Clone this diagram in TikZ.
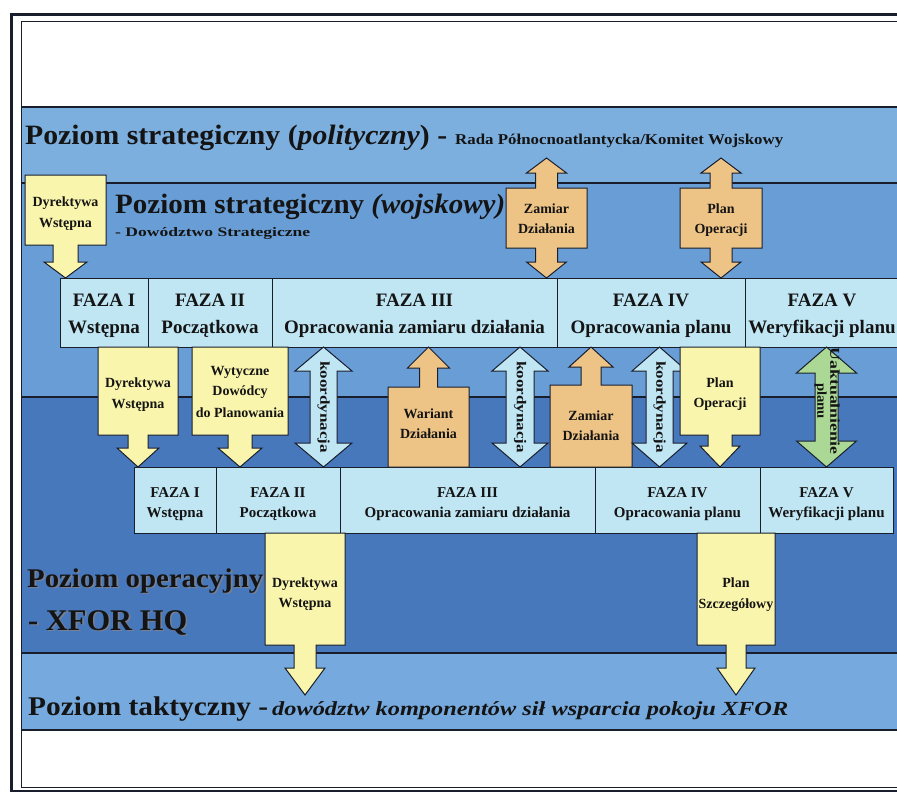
\documentclass[tikz,border=0pt]{standalone}
\usepackage{fontspec}
\setmainfont{Liberation Serif}
\usepackage{graphicx}
\definecolor{bandA}{RGB}{124,175,222}
\definecolor{bandB}{RGB}{104,158,213}
\definecolor{bandOp}{RGB}{72,120,188}
\definecolor{bandT}{RGB}{118,170,222}
\definecolor{linec}{RGB}{25,30,45}
\definecolor{yelc}{RGB}{250,245,172}
\definecolor{orac}{RGB}{238,196,134}
\definecolor{cyac}{RGB}{192,230,244}
\definecolor{grnc}{RGB}{172,216,150}
\definecolor{txt}{RGB}{20,20,20}
\definecolor{shc}{RGB}{120,128,145}
\newcommand\ArrDown[9]{%
 \pgfmathsetmacro\acx{(#2+#3)/2}%
 \path[#1] (#2,#4) -- (#3,#4) -- (#3,#5) -- (\acx+#8,#5) -- (\acx+#8,#6) -- (\acx+#9,#6) -- (\acx,#7) -- (\acx-#9,#6) -- (\acx-#8,#6) -- (\acx-#8,#5) -- (#2,#5) -- cycle;}
\newcommand\ArrUp[9]{%
 \pgfmathsetmacro\acx{(#2+#3)/2}%
 \path[#1] (#2,#5) -- (#2,#4) -- (\acx-#8,#4) -- (\acx-#8,#6) -- (\acx-#9,#6) -- (\acx,#7) -- (\acx+#9,#6) -- (\acx+#8,#6) -- (\acx+#8,#4) -- (#3,#4) -- (#3,#5) -- cycle;}
\newcommand\ArrBoth[9]{%
 \pgfmathsetmacro\acx{(#2+#3)/2}%
 \pgfmathsetmacro\aya{#6+15}%
 \pgfmathsetmacro\ayb{#7-16}%
 \path[#1] (#2,#4) -- (\acx-#8,#4) -- (\acx-#8,\aya) -- (\acx-#9,\aya) -- (\acx,#6) -- (\acx+#9,\aya) -- (\acx+#8,\aya) -- (\acx+#8,#4) -- (#3,#4) -- (#3,#5) -- (\acx+#8,#5) -- (\acx+#8,\ayb) -- (\acx+#9,\ayb) -- (\acx,#7) -- (\acx-#9,\ayb) -- (\acx-#8,\ayb) -- (\acx-#8,#5) -- (#2,#5) -- cycle;}
\newcommand\DArr[7]{%
 \pgfmathsetmacro\aya{#3+#5}%
 \pgfmathsetmacro\ayb{#4-#5}%
 \path[#1] (#2,#3) -- (#2+#7,\aya) -- (#2+#6,\aya) -- (#2+#6,\ayb) -- (#2+#7,\ayb) -- (#2,#4) -- (#2-#7,\ayb) -- (#2-#6,\ayb) -- (#2-#6,\aya) -- (#2-#7,\aya) -- cycle;}
\newcommand\fitw[2]{\resizebox{#1}{\height}{#2}}
\newcommand\shadowed[1]{\rlap{\kern1.6pt\raisebox{-1.6pt}{\color{shc}#1}}#1}
\begin{document}
\begin{tikzpicture}[x=1pt,y=-1pt,
  outl/.style={draw=linec, line width=1pt, line join=miter},
  yel/.style={outl, fill=yelc},
  ora/.style={outl, fill=orac},
  cya/.style={outl, fill=cyac},
  grn/.style={outl, fill=grnc},
  bandline/.style={draw=linec, line width=1.1pt},
  lab/.style={font=\fontsize{14}{15}\selectfont\bfseries, text=txt, inner sep=0pt, anchor=base},
  fazaA/.style={font=\fontsize{19}{20}\selectfont\bfseries, text=txt, inner sep=0pt, anchor=base},
  fazaB/.style={font=\fontsize{15}{16}\selectfont\bfseries, text=txt, inner sep=0pt, anchor=base},
  head/.style={text=txt, inner sep=0pt, anchor=base west},
  vlab/.style={font=\fontsize{13.5}{13}\selectfont\bfseries, text=txt, inner sep=0pt, rotate=-90, align=center}
]
\useasboundingbox (0,0) rectangle (897,792);
\clip (0,0) rectangle (897,792);
\fill[white] (0,0) rectangle (897,792);
% bands
\fill[bandA] (22,107) rectangle (900,183);
\fill[bandB] (22,183) rectangle (900,397);
\fill[bandOp] (22,397) rectangle (900,653);
\fill[bandT] (22,653) rectangle (900,730);
\foreach \yy in {107,183,397,653,730} \draw[bandline] (22,\yy) -- (900,\yy);
% frame
\draw[linec, line width=3pt] (11.5,15) rectangle (1000,791);
\draw[linec, line width=1.8pt] (21.5,21.5) rectangle (990,787.5);
% headings
\node[head] (h1) at (25,144) {\fitw{422pt}{\fontsize{28}{30}\selectfont\bfseries Poziom strategiczny (\textit{polityczny}) -}};
\node[head] (h1b) at (455,144) {\fitw{328pt}{\fontsize{15}{16}\selectfont\bfseries Rada Północnoatlantycka/Komitet Wojskowy}};
\node[head] (h2) at (115,213) {\fitw{390pt}{\fontsize{28}{30}\selectfont\bfseries Poziom strategiczny \textit{(wojskowy)}}};
\node[head] (h2b) at (115,236) {\fitw{195pt}{\fontsize{13}{14}\selectfont\bfseries - Dowództwo Strategiczne}};
\node[head] (h3) at (27,587) {\fitw{236pt}{\fontsize{27}{30}\selectfont\bfseries\shadowed{Poziom operacyjny}}};
\node[head] (h3b) at (28,630) {\fitw{159pt}{\fontsize{30}{32}\selectfont\bfseries\shadowed{- XFOR HQ}}};
\node[head] (h4) at (28,715) {\fitw{240pt}{\fontsize{27}{30}\selectfont\bfseries Poziom taktyczny -}};
\node[head] (h4b) at (272,715) {\fitw{516pt}{\fontsize{20}{22}\selectfont\bfseries\itshape dowództw komponentów sił wsparcia pokoju XFOR}};
% upper phase row
\draw[cya] (60,278) rectangle (148,347);
\draw[cya] (148,278) rectangle (272,347);
\draw[cya] (272,278) rectangle (557,347);
\draw[cya] (557,278) rectangle (745,347);
\draw[cya] (745,278) rectangle (905,347);
\node[fazaA] (u1a) at (104,306) {FAZA I};
\node[fazaA] (u1b) at (104,333) {Wstępna};
\node[fazaA] (u2a) at (210,306) {FAZA II};
\node[fazaA] (u2b) at (210,333) {Początkowa};
\node[fazaA] (u3a) at (414.5,306) {FAZA III};
\node[fazaA] (u3b) at (414.5,333) {Opracowania zamiaru działania};
\node[fazaA] (u4a) at (651,306) {FAZA IV};
\node[fazaA] (u4b) at (651,333) {Opracowania planu};
\node[fazaA] (u5a) at (822,306) {FAZA V};
\node[fazaA] (u5b) at (822,333) {Weryfikacji planu};
% lower phase row
\draw[cya] (134,467) rectangle (216,533);
\draw[cya] (216,467) rectangle (340,533);
\draw[cya] (340,467) rectangle (595,533);
\draw[cya] (595,467) rectangle (760,533);
\draw[cya] (760,467) rectangle (893,533);
\node[fazaB] (l1a) at (175,497) {FAZA I};
\node[fazaB] (l1b) at (175,517) {Wstępna};
\node[fazaB] (l2a) at (278,497) {FAZA II};
\node[fazaB] (l2b) at (278,517) {Początkowa};
\node[fazaB] (l3a) at (467.5,497) {FAZA III};
\node[fazaB] (l3b) at (467.5,517) {Opracowania zamiaru działania};
\node[fazaB] (l4a) at (677.5,497) {FAZA IV};
\node[fazaB] (l4b) at (677.5,517) {Opracowania planu};
\node[fazaB] (l5a) at (826.5,497) {FAZA V};
\node[fazaB] (l5b) at (826.5,517) {Weryfikacji planu};
% top-level arrows
\ArrDown{yel}{25}{106}{175}{245}{262}{278}{12.5}{21.5}
\node[lab] (d0a) at (65.5,206) {Dyrektywa};
\node[lab] (d0b) at (65.5,227) {Wstępna};
\ArrBoth{ora}{506}{587}{188}{248}{158}{278}{11}{20}
\node[lab] (z0a) at (546.5,213) {Zamiar};
\node[lab] (z0b) at (546.5,233) {Działania};
\ArrBoth{ora}{680}{762}{188}{248}{158}{278}{11}{20}
\node[lab] (p0a) at (721,213) {Plan};
\node[lab] (p0b) at (721,233) {Operacji};
% middle arrows
\ArrDown{yel}{98}{178}{347}{435}{448}{467}{10}{21}
\node[lab] (d1a) at (138,387) {Dyrektywa};
\node[lab] (d1b) at (138,408) {Wstępna};
\ArrDown{yel}{192}{288}{347}{435}{448}{467}{12}{22}
\node[lab] (w1a) at (240,375) {Wytyczne};
\node[lab] (w1b) at (240,395) {Dowódcy};
\node[lab] (w1c) at (240,417) {do Planowania};
\DArr{cya}{323.5}{347}{467}{24}{13.5}{28.5}
\node[vlab] (k1) at (323.5,407) {\fitw{92pt}{koordynacja}};
\ArrUp{ora}{388}{469}{387}{467}{368}{347}{9}{21}
\node[lab] (v1a) at (428.5,418) {Wariant};
\node[lab] (v1b) at (428.5,438) {Działania};
\DArr{cya}{520}{347}{467}{24}{14}{28}
\node[vlab] (k2) at (520,407) {\fitw{92pt}{koordynacja}};
\ArrUp{ora}{550}{632}{385}{467}{367}{347}{10}{22}
\node[lab] (z1a) at (591,420) {Zamiar};
\node[lab] (z1b) at (591,440) {Działania};
\DArr{cya}{659.5}{347}{467}{24}{13.5}{27.5}
\node[vlab] (k3) at (659.5,407) {\fitw{92pt}{koordynacja}};
\ArrDown{yel}{680}{760}{347}{435}{446}{467}{12}{20}
\node[lab] (p1a) at (720,387) {Plan};
\node[lab] (p1b) at (720,407) {Operacji};
\DArr{grn}{826.5}{347}{467}{26}{11.5}{30}
\node[vlab] (u1) at (827,401) {\fitw{107pt}{Uaktualnienie}\\\fitw{36pt}{planu}};
% bottom arrows
\ArrDown{yel}{265}{345}{533}{645}{668}{695}{11}{20}
\node[lab] (d2a) at (305,587) {Dyrektywa};
\node[lab] (d2b) at (305,607) {Wstępna};
\ArrDown{yel}{697}{775}{533}{645}{668}{695}{10}{19}
\node[lab] (s2a) at (736,587) {Plan};
\node[lab] (s2b) at (736,608) {Szczegółowy};
\end{tikzpicture}
\end{document}
